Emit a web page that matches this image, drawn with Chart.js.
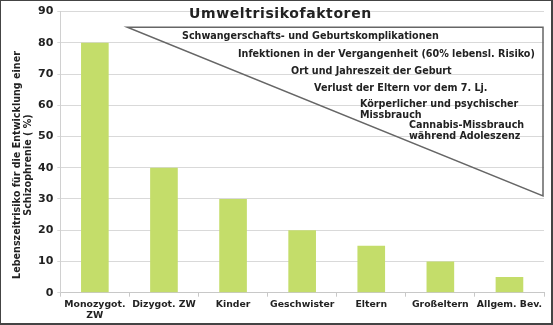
<!DOCTYPE html>
<html>
<head>
<meta charset="utf-8">
<script src="https://cdn.jsdelivr.net/npm/chart.js@4/dist/chart.umd.min.js"></script>
<style>
  html, body { margin: 0; padding: 0; background: #fff; }
  #box { width: 553px; height: 325px; box-sizing: border-box; border: 1px solid #444; border-bottom-width: 2px; border-right-width: 2px; }
  canvas { display: block; }
</style>
</head>
<body>
<div id="box"><canvas id="grafico" width="550" height="322"></canvas></div>
<script>
const kategorien = [['Monozygot.', 'ZW'], 'Dizygot. ZW', 'Kinder', 'Geschwister', 'Eltern', 'Großeltern', 'Allgem. Bev.'];
const risiko = [80, 40, 30, 20, 15, 10, 5];
const yTicks = [0, 10, 20, 30, 40, 50, 60, 70, 80, 90];
const yTitel = ['Lebenszeitrisiko für die Entwicklung einer', 'Schizophrenie ( %)'];
const umweltTitel = 'Umweltrisikofaktoren';
const umweltFaktoren = [
  ['Schwangerschafts- und Geburtskomplikationen'],
  ['Infektionen in der Vergangenheit (60% lebensl. Risiko)'],
  ['Ort und Jahreszeit der Geburt'],
  ['Verlust der Eltern vor dem 7. Lj.'],
  ['Körperlicher und psychischer', 'Missbrauch'],
  ['Cannabis-Missbrauch', 'während Adoleszenz']
];

const schrift = 'DejaVu Sans';
const dunkel = '#222';

// Dreieck mit Umweltfaktoren und Achsentitel
const umweltPlugin = {
  id: 'umwelt',
  afterDatasetsDraw(chart) {
    const ctx = chart.ctx;
    const x = chart.scales.x, y = chart.scales.y;
    const a = chart.chartArea;
    const links = x.getPixelForValue(0) + 0.47 * (x.getPixelForValue(1) - x.getPixelForValue(0));
    const rechts = a.right - 1;
    const oben = y.getPixelForValue(85);
    const unten = y.getPixelForValue(31);
    ctx.save();
    ctx.strokeStyle = '#666';
    ctx.lineWidth = 1.5;
    ctx.beginPath();
    ctx.moveTo(links, oben);
    ctx.lineTo(rechts, oben);
    ctx.lineTo(rechts, unten);
    ctx.closePath();
    ctx.stroke();

    ctx.fillStyle = dunkel;
    ctx.textBaseline = 'middle';
    ctx.font = 'bold 14px ' + schrift;
    ctx.letterSpacing = '0.6px';
    ctx.fillText(umweltTitel, 188, 13);
    ctx.letterSpacing = '0px';

    ctx.font = 'bold 9.6px ' + schrift;
    const startX = [181, 237, 290, 313, 359, 408];
    const startY = [35, 53, 70, 87, 103, 124];
    umweltFaktoren.forEach((zeilen, i) => {
      zeilen.forEach((t, j) => ctx.fillText(t, startX[i], startY[i] + j * 11));
    });

    // y-Achsentitel, etwas unterhalb der Mitte wie im Original
    ctx.translate(16, 164);
    ctx.rotate(-Math.PI / 2);
    ctx.textAlign = 'center';
    yTitel.forEach((t, j) => ctx.fillText(t, 0, j * 11.5));
    ctx.restore();
  }
};

new Chart(document.getElementById('grafico'), {
  type: 'bar',
  data: {
    labels: kategorien,
    datasets: [{
      data: risiko,
      backgroundColor: '#c4dd6a',
      borderWidth: 0,
      barPercentage: 0.4,
      categoryPercentage: 1
    }]
  },
  options: {
    responsive: false,
    animation: false,
    devicePixelRatio: 1,
    layout: { padding: { top: 0, right: 7, left: 33, bottom: 0 } },
    plugins: { legend: { display: false }, tooltip: { enabled: false } },
    scales: {
      x: {
        grid: { drawOnChartArea: false, drawTicks: true, tickLength: 4, color: '#c8c8c8' },
        border: { color: '#c8c8c8' },
        ticks: { color: dunkel, font: { family: schrift, size: 9.3, weight: 'bold' }, maxRotation: 0, autoSkip: false, padding: 2 }
      },
      y: {
        min: 0, max: 90,
        afterBuildTicks(s) { s.ticks = yTicks.map(v => ({ value: v })); },
        grid: { color: '#d9d9d9', drawTicks: true, tickLength: 3 },
        border: { color: '#d0d0d0' },
        ticks: { color: dunkel, font: { family: schrift, size: 11, weight: 'bold' }, padding: 4 }
      }
    }
  },
  plugins: [umweltPlugin]
});
</script>
</body>
</html>
